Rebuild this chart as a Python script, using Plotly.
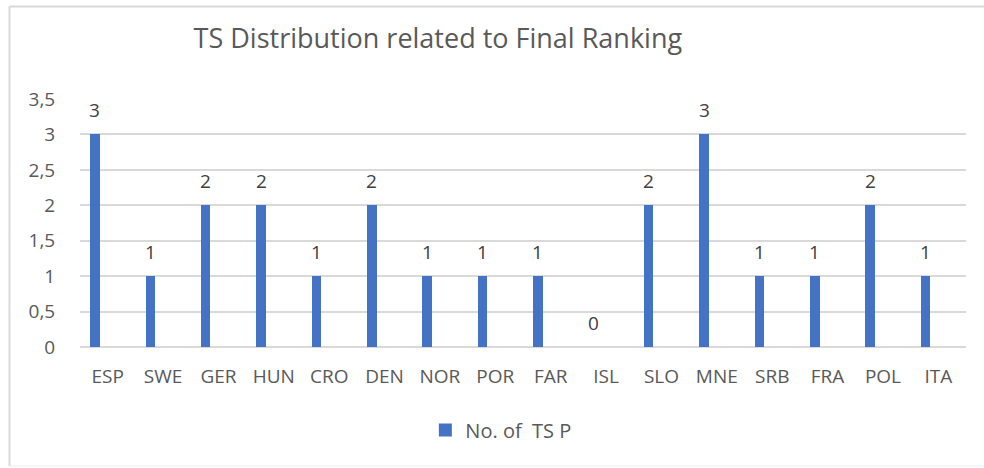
import plotly.graph_objects as go

categories = ["ESP", "SWE", "GER", "HUN", "CRO", "DEN", "NOR", "POR", "FAR", "ISL",
              "SLO", "MNE", "SRB", "FRA", "POL", "ITA"]
ts_values = [3, 1, 2, 2, 1, 2, 1, 1, 1, 0, 2, 3, 1, 1, 2, 1]
y_ticks = [0, 0.5, 1, 1.5, 2, 2.5, 3, 3.5]
y_tick_text = ["0", "0,5", "1", "1,5", "2", "2,5", "3", "3,5"]
series_name = "No. of\u00a0 TS P"
title_text = "TS Distribution related to Final Ranking"

BAR_COLOR = "#4472C4"
TEXT_COLOR = "#595959"
GRID_COLOR = "#d9d9d9"
FONT = "Open Sans"

bar_offset = -0.315
bar_width = 0.17

fig = go.Figure()
fig.add_trace(go.Bar(
    x=categories, y=ts_values, name=series_name,
    marker=dict(color=BAR_COLOR, line=dict(width=0)),
    width=bar_width, offset=bar_offset,
    showlegend=False,
))
# legend entry with a square swatch
fig.add_trace(go.Scatter(
    x=[None], y=[None], mode="markers", name=series_name,
    marker=dict(symbol="square", size=13, color=BAR_COLOR),
    showlegend=True,
))

for c, v in zip(categories, ts_values):
    fig.add_annotation(
        x=c, y=v, xref="x", yref="y", text=str(v), showarrow=False,
        xshift=(bar_offset + bar_width / 2) * 55.4, yshift=24,
        font=dict(family=FONT, size=19, color="#404040"),
    )

fig.update_layout(
    width=984, height=468,
    margin=dict(l=80, r=18, t=99, b=121),
    paper_bgcolor="white", plot_bgcolor="white",
    font=dict(family=FONT, color=TEXT_COLOR),
    title=dict(text=title_text, x=0.445, xref="container", xanchor="center",
               y=0.917, yref="container", yanchor="middle",
               font=dict(family=FONT, size=27, color=TEXT_COLOR)),
    bargap=0,
    xaxis=dict(type="category", showgrid=False, zeroline=False, showline=False,
               ticks="outside", ticklen=12, tickcolor="rgba(0,0,0,0)",
               tickfont=dict(family=FONT, size=19, color=TEXT_COLOR)),
    yaxis=dict(range=[0, 3.5], tickvals=y_ticks, ticktext=y_tick_text,
               showgrid=True, gridcolor=GRID_COLOR, gridwidth=2,
               zeroline=True, zerolinecolor=GRID_COLOR, zerolinewidth=2,
               showline=False, ticks="outside", ticklen=20,
               tickcolor="rgba(0,0,0,0)",
               tickfont=dict(family=FONT, size=19, color=TEXT_COLOR)),
    legend=dict(orientation="h", x=0.475, xanchor="center", y=-0.335,
                yanchor="middle", font=dict(family=FONT, size=20, color=TEXT_COLOR),
                bgcolor="rgba(0,0,0,0)", itemwidth=30),
    shapes=[
        dict(type="line", xref="paper", yref="paper", x0=-0.0796, x1=-0.0796,
             y0=-0.48, y1=1.373, line=dict(color=GRID_COLOR, width=2), layer="below"),
        dict(type="line", xref="paper", yref="paper", x0=-0.0796, x1=1.03,
             y0=1.373, y1=1.373, line=dict(color=GRID_COLOR, width=2), layer="below"),
        dict(type="line", xref="paper", yref="paper", x0=-0.0796, x1=1.03,
             y0=-0.48, y1=-0.48, line=dict(color="#eeeeee", width=1), layer="below"),
    ],
)

fig.write_html("out.html", config={"displayModeBar": False},
               post_script="document.body.style.margin='0';document.body.style.overflow='hidden';")
